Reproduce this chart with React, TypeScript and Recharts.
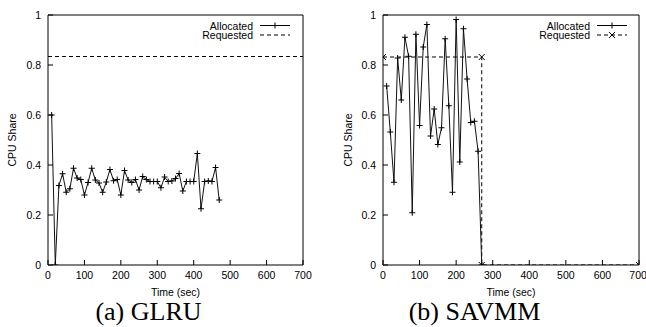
import { LineChart, Line, XAxis, YAxis } from "recharts";

const X_TICKS = [0, 100, 200, 300, 400, 500, 600, 700];
const Y_TICKS = [0, 0.2, 0.4, 0.6, 0.8, 1];

// (a) GLRU
const GLRU_TIME = [
  10, 20, 30, 40, 50, 60, 70, 80, 90, 100, 110, 120, 130, 140, 150, 160,
  170, 180, 190, 200, 210, 220, 230, 240, 250, 260, 270, 280, 290, 300,
  310, 320, 330, 340, 350, 360, 370, 380, 390, 400, 410, 420, 430, 440,
  450, 460, 470,
];
const GLRU_ALLOC = [
  0.6, 0.0, 0.318, 0.365, 0.291, 0.305, 0.387, 0.348, 0.342, 0.28, 0.33,
  0.387, 0.34, 0.328, 0.291, 0.332, 0.382, 0.337, 0.342, 0.28, 0.378, 0.34,
  0.33, 0.342, 0.3, 0.354, 0.342, 0.334, 0.334, 0.334, 0.309, 0.352, 0.334,
  0.336, 0.346, 0.366, 0.296, 0.334, 0.334, 0.334, 0.446, 0.225, 0.334,
  0.336, 0.334, 0.39, 0.26,
];
const GLRU_REQ_TIME = [0, 700];
const GLRU_REQ = [0.834, 0.834];

// (b) SAVMM
const SAVMM_TIME = [
  10, 20, 30, 40, 50, 60, 70, 80, 90, 100, 110, 120, 130, 140, 150, 160,
  170, 180, 190, 200, 210, 220, 230, 240, 250, 260, 270,
];
const SAVMM_ALLOC = [
  0.716, 0.532, 0.331, 0.828, 0.66, 0.911, 0.835, 0.209, 0.923, 0.558,
  0.872, 0.962, 0.516, 0.624, 0.482, 0.549, 0.905, 0.637, 0.291, 0.982,
  0.412, 0.945, 0.744, 0.57, 0.575, 0.455, 0,
];
const SAVMM_REQ_TIME = [0, 270, 270, 700];
const SAVMM_REQ = [0.832, 0.832, 0, 0];

const FONT = "'Liberation Sans', Arial, sans-serif";
const TICK = { fontSize: 10.5, fill: "#000", fontFamily: FONT };

const toRows = (t: number[], v: number[]) => t.map((x, i) => ({ t: x, v: v[i] }));

const plusDot = (p: any) =>
  p.cx == null ? (
    <g key={p.index} />
  ) : (
    <path
      key={p.index}
      d={`M${p.cx - 3},${p.cy}h6M${p.cx},${p.cy - 3}v6`}
      stroke="#000"
      strokeWidth={1}
      fill="none"
    />
  );

const crossDot = (p: any) =>
  p.cx == null ? (
    <g key={p.index} />
  ) : (
    <path
      key={p.index}
      d={`M${p.cx - 3},${p.cy - 3}l6,6M${p.cx - 3},${p.cy + 3}l6,-6`}
      stroke="#000"
      strokeWidth={1}
      fill="none"
    />
  );

type PanelProps = {
  left: number;
  marginLeft: number;
  marginRight: number;
  alloc: { t: number; v: number }[];
  req: { t: number; v: number }[];
  reqMarks: boolean;
  caption: string;
  captionX: number;
  yLabelX: number;
  legendEnd: number;
};

function Panel(p: PanelProps) {
  const W = 323;
  const H = 327;
  const plotLeft = p.marginLeft + 40;
  const plotRight = W - p.marginRight - 1;
  const midX = (plotLeft + plotRight) / 2;
  const lx = p.legendEnd;
  return (
    <div style={{ position: "absolute", left: p.left, top: 0, width: W, height: H }}>
      <LineChart
        width={W}
        height={H}
        margin={{ top: 14, right: p.marginRight, bottom: 42, left: p.marginLeft }}
      >
        <XAxis
          dataKey="t"
          type="number"
          domain={[0, 700]}
          ticks={X_TICKS}
          height={20}
          tick={TICK}
          tickSize={-5}
          tickMargin={12}
          axisLine={{ stroke: "#000" }}
          tickLine={{ stroke: "#000" }}
          allowDataOverflow
        />
        <XAxis
          xAxisId="top"
          orientation="top"
          dataKey="t"
          type="number"
          domain={[0, 700]}
          ticks={X_TICKS}
          height={1}
          tick={false}
          tickSize={-5}
          axisLine={{ stroke: "#000" }}
          tickLine={{ stroke: "#000" }}
          allowDataOverflow
        />
        <YAxis
          type="number"
          domain={[0, 1]}
          ticks={Y_TICKS}
          width={40}
          tick={TICK}
          tickSize={-5}
          tickMargin={12}
          axisLine={{ stroke: "#000" }}
          tickLine={{ stroke: "#000" }}
          allowDataOverflow
        />
        <YAxis
          yAxisId="r"
          orientation="right"
          type="number"
          domain={[0, 1]}
          ticks={Y_TICKS}
          width={1}
          tick={false}
          tickSize={-5}
          axisLine={{ stroke: "#000" }}
          tickLine={{ stroke: "#000" }}
          allowDataOverflow
        />
        <Line
          data={p.req}
          dataKey="v"
          type="linear"
          stroke="#000"
          strokeWidth={1}
          strokeDasharray="4 3"
          dot={p.reqMarks ? crossDot : false}
          activeDot={false}
          isAnimationActive={false}
        />
        <Line
          data={p.alloc}
          dataKey="v"
          type="linear"
          stroke="#111"
          strokeWidth={1}
          dot={plusDot}
          activeDot={false}
          isAnimationActive={false}
        />
      </LineChart>
      <svg
        width={W}
        height={H}
        style={{ position: "absolute", left: 0, top: 0, pointerEvents: "none" }}
        fontFamily={FONT}
      >
        <text
          x={p.yLabelX}
          y={140}
          fontSize={10.5}
          textAnchor="middle"
          dominantBaseline="central"
          transform={`rotate(-90 ${p.yLabelX} 140)`}
        >
          CPU Share
        </text>
        <text x={midX} y={296} fontSize={10.5} textAnchor="middle">
          Time (sec)
        </text>
        <text
          x={p.captionX}
          y={320}
          fontSize={26}
          textAnchor="middle"
          fontFamily="'Liberation Serif', 'Times New Roman', serif"
        >
          {p.caption}
        </text>
        <text x={lx} y={29.5} fontSize={10.5} textAnchor="end">
          Allocated
        </text>
        <line x1={lx + 7} x2={lx + 37} y1={25.5} y2={25.5} stroke="#000" />
        <path d={`M${lx + 19},25.5h6M${lx + 22},22.5v6`} stroke="#000" fill="none" />
        <text x={lx} y={39} fontSize={10.5} textAnchor="end">
          Requested
        </text>
        <line
          x1={lx + 7}
          x2={lx + 37}
          y1={35}
          y2={35}
          stroke="#000"
          strokeDasharray="4 3"
        />
        {p.reqMarks && (
          <path d={`M${lx + 19},32l6,6M${lx + 19},38l6,-6`} stroke="#000" fill="none" />
        )}
      </svg>
    </div>
  );
}

export default function App() {
  return (
    <div
      style={{
        position: "absolute",
        left: 0,
        top: 0,
        width: 646,
        height: 327,
        overflow: "hidden",
        background: "#fff",
        fontFamily: FONT,
      }}
    >
      <Panel
        left={0}
        marginLeft={8}
        marginRight={19}
        alloc={toRows(GLRU_TIME, GLRU_ALLOC)}
        req={toRows(GLRU_REQ_TIME, GLRU_REQ)}
        reqMarks={false}
        caption="(a) GLRU"
        captionX={148.5}
        yLabelX={12}
        legendEnd={253}
      />
      <Panel
        left={323}
        marginLeft={20}
        marginRight={6}
        alloc={toRows(SAVMM_TIME, SAVMM_ALLOC)}
        req={toRows(SAVMM_REQ_TIME, SAVMM_REQ)}
        reqMarks={true}
        caption="(b) SAVMM"
        captionX={151.5}
        yLabelX={25}
        legendEnd={267}
      />
    </div>
  );
}
